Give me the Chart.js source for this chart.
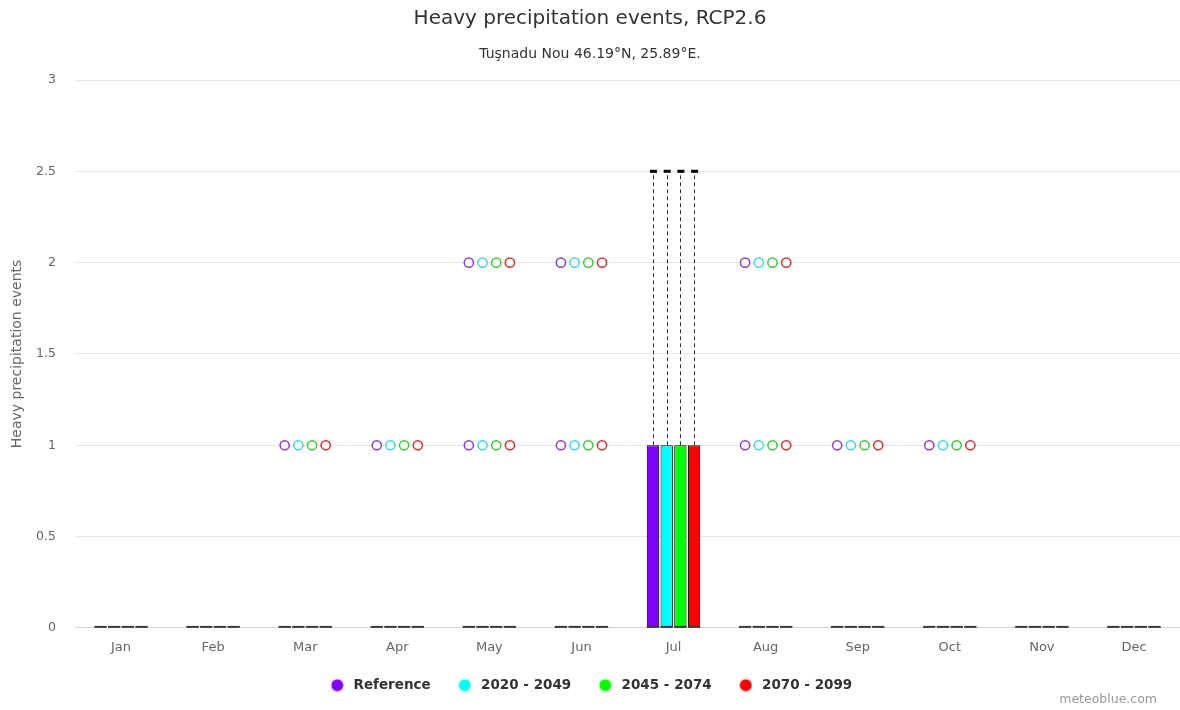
<!DOCTYPE html>
<html>
<head>
<meta charset="utf-8">
<script src="https://cdn.jsdelivr.net/npm/chart.js@4.4.1/dist/chart.umd.min.js"></script>
<style>
html,body{margin:0;padding:0;background:#fff;}
#wrap{width:1180px;height:710px;position:relative;}
</style>
</head>
<body>
<div id="wrap"><canvas id="c" width="1180" height="710"></canvas></div>
<script>
// ---------- DATA ----------
const months = ['Jan','Feb','Mar','Apr','May','Jun','Jul','Aug','Sep','Oct','Nov','Dec'];
const seriesNames = ['Reference','2020 - 2049','2045 - 2074','2070 - 2099'];
const yTicks = [0, 0.5, 1, 1.5, 2, 2.5, 3];

// box statistics per month: [low, q1, median, q3, high]
const boxReference = [[0,0,0,0,0],[0,0,0,0,0],[0,0,0,0,0],[0,0,0,0,0],[0,0,0,0,0],[0,0,0,0,0],[0,0,0,1,2.5],[0,0,0,0,0],[0,0,0,0,0],[0,0,0,0,0],[0,0,0,0,0],[0,0,0,0,0]];
const box2020 = [[0,0,0,0,0],[0,0,0,0,0],[0,0,0,0,0],[0,0,0,0,0],[0,0,0,0,0],[0,0,0,0,0],[0,0,0,1,2.5],[0,0,0,0,0],[0,0,0,0,0],[0,0,0,0,0],[0,0,0,0,0],[0,0,0,0,0]];
const box2045 = [[0,0,0,0,0],[0,0,0,0,0],[0,0,0,0,0],[0,0,0,0,0],[0,0,0,0,0],[0,0,0,0,0],[0,0,0,1,2.5],[0,0,0,0,0],[0,0,0,0,0],[0,0,0,0,0],[0,0,0,0,0],[0,0,0,0,0]];
const box2070 = [[0,0,0,0,0],[0,0,0,0,0],[0,0,0,0,0],[0,0,0,0,0],[0,0,0,0,0],[0,0,0,0,0],[0,0,0,1,2.5],[0,0,0,0,0],[0,0,0,0,0],[0,0,0,0,0],[0,0,0,0,0],[0,0,0,0,0]];

// outliers per month
const outliersReference = [[],[],[1],[1],[1,2],[1,2],[],[1,2],[1],[1],[],[]];
const outliers2020 = [[],[],[1],[1],[1,2],[1,2],[],[1,2],[1],[1],[],[]];
const outliers2045 = [[],[],[1],[1],[1,2],[1,2],[],[1,2],[1],[1],[],[]];
const outliers2070 = [[],[],[1],[1],[1,2],[1,2],[],[1,2],[1],[1],[],[]];

// ---------- STYLE ----------
const boxes = [boxReference, box2020, box2045, box2070];
const outliers = [outliersReference, outliers2020, outliers2045, outliers2070];
const seriesColors = ['#8000ff', '#00ffff', '#00ff00', '#ff0000'];
const ringColors = ['#8a3cd2', '#3cd8e6', '#3cc83c', '#d03232'];
const FONT = "'DejaVu Sans', sans-serif";
Chart.defaults.font.family = FONT;

function makeDot(color) {
  const c = document.createElement('canvas');
  c.width = 13; c.height = 13;
  const g = c.getContext('2d');
  g.fillStyle = color;
  g.beginPath(); g.arc(6.5, 6.5, 6, 0, Math.PI * 2); g.fill();
  return c;
}
const legendDots = seriesColors.map(makeDot);

const boxExtras = {
  id: 'boxExtras',
  afterDatasetsDraw(chart) {
    const ctx = chart.ctx;
    const ys = chart.scales.y;
    chart.data.datasets.forEach((ds, i) => {
      if (!chart.isDatasetVisible(i)) return;
      const meta = chart.getDatasetMeta(i);
      meta.data.forEach((bar, j) => {
        const x = bar.x, w = bar.width;
        const [low, q1, med, q3, high] = boxes[i][j];
        ctx.save();
        if (high > q3) {
          ctx.strokeStyle = '#333'; ctx.lineWidth = 1; ctx.setLineDash([4, 3]);
          ctx.beginPath();
          ctx.moveTo(Math.round(x) + 0.5, ys.getPixelForValue(q3));
          ctx.lineTo(Math.round(x) + 0.5, ys.getPixelForValue(high));
          ctx.stroke();
          ctx.setLineDash([]);
          ctx.strokeStyle = '#000'; ctx.lineWidth = 3;
          ctx.beginPath();
          ctx.moveTo(x - 3, ys.getPixelForValue(high));
          ctx.lineTo(x + 4, ys.getPixelForValue(high));
          ctx.stroke();
        }
        if (low < q1) {
          ctx.strokeStyle = '#333'; ctx.lineWidth = 1; ctx.setLineDash([4, 3]);
          ctx.beginPath();
          ctx.moveTo(Math.round(x) + 0.5, ys.getPixelForValue(q1));
          ctx.lineTo(Math.round(x) + 0.5, ys.getPixelForValue(low));
          ctx.stroke();
          ctx.setLineDash([]);
        }
        ctx.strokeStyle = '#3a3a3a'; ctx.lineWidth = 2;
        const my = ys.getPixelForValue(med) - 1;
        ctx.beginPath();
        ctx.moveTo(x - w / 2, my);
        ctx.lineTo(x + w / 2, my);
        ctx.stroke();
        ctx.lineWidth = 1.5; ctx.strokeStyle = ringColors[i]; ctx.fillStyle = '#fff';
        outliers[i][j].forEach(v => {
          ctx.beginPath();
          ctx.arc(x, ys.getPixelForValue(v), 4.6, 0, Math.PI * 2);
          ctx.fill(); ctx.stroke();
        });
        ctx.restore();
      });
    });
  },
  afterDraw(chart) {
    const ctx = chart.ctx;
    ctx.save();
    ctx.font = "12.5px " + FONT;
    ctx.fillStyle = '#999';
    ctx.textAlign = 'right';
    ctx.textBaseline = 'middle';
    ctx.fillText('meteoblue.com', 1157, 700);
    ctx.restore();
  }
};

const datasets = seriesNames.map((name, i) => ({
  label: name,
  data: boxes[i].map(b => [b[1], b[3]]),
  backgroundColor: seriesColors[i],
  borderColor: '#000',
  borderWidth: 1,
  borderSkipped: false,
  categoryPercentage: 0.595,
  barPercentage: 0.9
}));

new Chart(document.getElementById('c'), {
  type: 'bar',
  data: { labels: months, datasets },
  plugins: [boxExtras],
  options: {
    responsive: false,
    devicePixelRatio: 1,
    animation: false,
    layout: { padding: { top: 0, left: 0, right: 0, bottom: 8 } },
    plugins: {
      tooltip: { enabled: false },
      title: {
        display: true,
        text: 'Heavy precipitation events, RCP2.6',
        color: '#333',
        font: { size: 20, weight: 'normal', family: FONT },
        padding: { top: 7, bottom: 14.6 }
      },
      subtitle: {
        display: true,
        text: 'Tuşnadu Nou 46.19°N, 25.89°E.',
        color: '#333',
        font: { size: 14, weight: 'normal', family: FONT },
        padding: { top: 0, bottom: 17.6 }
      },
      legend: {
        position: 'bottom',
        labels: {
          usePointStyle: true,
          pointStyleWidth: 19,
          padding: 24.6,
          color: '#333',
          font: { size: 13.5, weight: 'bold', family: FONT },
          generateLabels: (chart) => chart.data.datasets.map((ds, i) => ({
            text: ds.label,
            pointStyle: legendDots[i],
            fillStyle: seriesColors[i],
            strokeStyle: seriesColors[i],
            lineWidth: 0,
            hidden: !chart.isDatasetVisible(i),
            datasetIndex: i,
            fontColor: '#333'
          }))
        }
      }
    },
    scales: {
      x: {
        afterFit: (s) => { s.height = 26; },
        grid: { display: false, drawTicks: false },
        border: { display: true, color: '#ccd6eb' },
        ticks: { color: '#666', padding: 12, font: { size: 13, family: FONT } }
      },
      y: {
        min: 0, max: 3,
        afterFit: (s) => { s.width = 75; },
        afterBuildTicks: (s) => { s.ticks = yTicks.map(v => ({ value: v })); },
        grid: { color: '#e6e6e6', drawTicks: false },
        border: { display: false },
        ticks: { color: '#666', padding: 19, font: { size: 12.5, family: FONT }, callback: (v) => String(v) },
        title: {
          display: true,
          text: 'Heavy precipitation events',
          color: '#666',
          font: { size: 14, family: FONT },
          padding: { top: 8.6, bottom: 0 }
        }
      }
    }
  }
});
</script>
</body>
</html>
